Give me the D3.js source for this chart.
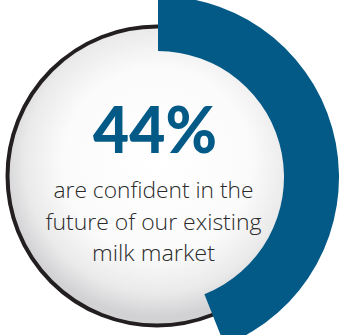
<!DOCTYPE html>
<html><head><meta charset="utf-8">
<script src="https://cdn.jsdelivr.net/npm/d3@7"></script>
<style>html,body{margin:0;padding:0;background:#fff;}svg{display:block;}</style>
</head><body>
<script>
const percentValues = [44];
const headlineLabels = ["44%"];
const captionLines = ["are confident in the", "future of our existing", "milk market"];
const captionWidths = [200, 216, 123];

const W = 339, H = 335;
const cx = 157, cy = 176;
const svg = d3.select("body").append("svg").attr("width", W).attr("height", H);
const defs = svg.append("defs");
const grad = defs.append("radialGradient").attr("id", "g").attr("cx", "50%").attr("cy", "45%").attr("r", "52%");
grad.append("stop").attr("offset", "0%").attr("stop-color", "#ffffff");
grad.append("stop").attr("offset", "60%").attr("stop-color", "#fbfbfb");
grad.append("stop").attr("offset", "85%").attr("stop-color", "#eaeaeb");
grad.append("stop").attr("offset", "100%").attr("stop-color", "#d2d2d4");

const g = svg.append("g").attr("transform", `translate(${cx},${cy})`);
g.append("circle").attr("r", 149.5).attr("fill", "url(#g)").attr("stroke", "#231f20").attr("stroke-width", 4);

const angle = d3.scaleLinear().domain([0, 100]).range([0, 2 * Math.PI]);
const arc = d3.arc().innerRadius(126).outerRadius(181).startAngle(0);
g.selectAll("path.v").data(percentValues).enter().append("path")
  .attr("class", "v").attr("fill", "#045a87")
  .attr("transform", "translate(1,1)")
  .attr("d", d => arc({endAngle: angle(d)}));

svg.append("text").text(headlineLabels[0])
  .attr("x", 155).attr("y", 153).attr("text-anchor", "middle")
  .attr("font-family", "Lato").attr("font-weight", 900).attr("font-size", 64)
  .attr("fill", "#045a87")
  .attr("textLength", 124).attr("lengthAdjust", "spacingAndGlyphs");

svg.selectAll("text.c").data(captionLines).enter().append("text")
  .attr("class", "c").text(d => d)
  .attr("x", 153.5).attr("y", (d, i) => 198 + i * 31.5).attr("text-anchor", "middle")
  .attr("font-family", "Open Sans").attr("font-weight", 300).attr("font-size", 21.5)
  .attr("fill", "#2b2b2b")
  .attr("textLength", (d, i) => captionWidths[i]).attr("lengthAdjust", "spacingAndGlyphs");
</script>
</body></html>
